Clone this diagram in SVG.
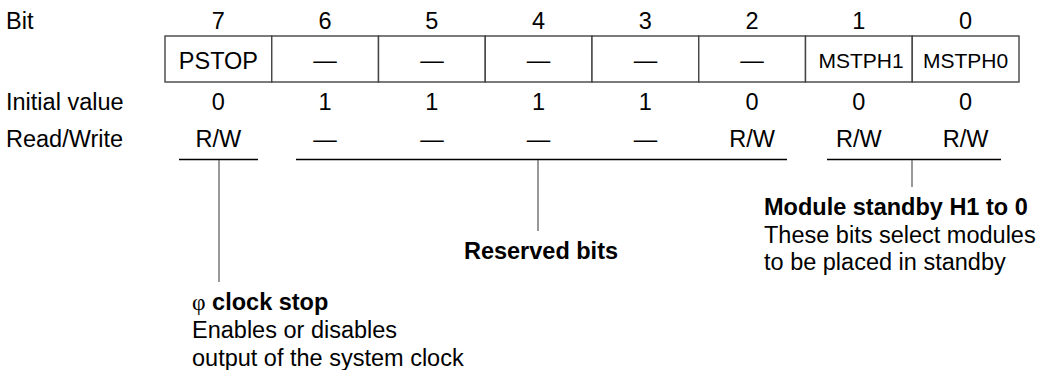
<svg xmlns="http://www.w3.org/2000/svg" width="1040" height="370" viewBox="0 0 1040 370">
<style>
text{font-family:"Liberation Sans",Arial,sans-serif;font-size:23.5px;fill:#000}
.c{text-anchor:middle}
.b{font-weight:bold}
.sm{font-size:21px}
.phi{font-family:"Liberation Serif","Times New Roman",serif;font-weight:normal}
.cell{fill:#fff;stroke:#444;stroke-width:1.4}
.br{stroke:#000;stroke-width:1.3;fill:none}
.vl{stroke:#555;stroke-width:1.2;fill:none}
</style>
<rect width="1040" height="370" fill="#fff"/>
<g id="row-labels">
<text x="6" y="29">Bit</text>
<text x="6" y="110">Initial value</text>
<text x="6" y="147">Read/Write</text>
</g>
<g id="bit-numbers">
<text class="c" x="218.4" y="29">7</text>
<text class="c" x="325.1" y="29">6</text>
<text class="c" x="431.9" y="29">5</text>
<text class="c" x="538.6" y="29">4</text>
<text class="c" x="645.4" y="29">3</text>
<text class="c" x="752.1" y="29">2</text>
<text class="c" x="858.9" y="29">1</text>
<text class="c" x="965.6" y="29">0</text>
</g>
<g id="register">
<rect class="cell" x="165" y="36" width="106.75" height="46"/>
<rect class="cell" x="271.75" y="36" width="106.75" height="46"/>
<rect class="cell" x="378.5" y="36" width="106.75" height="46"/>
<rect class="cell" x="485.25" y="36" width="106.75" height="46"/>
<rect class="cell" x="592" y="36" width="106.75" height="46"/>
<rect class="cell" x="698.75" y="36" width="106.75" height="46"/>
<rect class="cell" x="805.5" y="36" width="106.75" height="46"/>
<rect class="cell" x="912.25" y="36" width="106.75" height="46"/>
<text class="c" x="218.4" y="69">PSTOP</text>
<text class="c" x="325.1" y="68">—</text>
<text class="c" x="431.9" y="68">—</text>
<text class="c" x="538.6" y="68">—</text>
<text class="c" x="645.4" y="68">—</text>
<text class="c" x="752.1" y="68">—</text>
<text class="c sm" x="861" y="68">MSTPH1</text>
<text class="c sm" x="965.6" y="68">MSTPH0</text>
</g>
<g id="initial-values">
<text class="c" x="218.4" y="110">0</text>
<text class="c" x="325.1" y="110">1</text>
<text class="c" x="431.9" y="110">1</text>
<text class="c" x="538.6" y="110">1</text>
<text class="c" x="645.4" y="110">1</text>
<text class="c" x="752.1" y="110">0</text>
<text class="c" x="858.9" y="110">0</text>
<text class="c" x="965.6" y="110">0</text>
</g>
<g id="read-write">
<text class="c" x="218.4" y="147">R/W</text>
<text class="c" x="325.1" y="147">—</text>
<text class="c" x="431.9" y="147">—</text>
<text class="c" x="538.6" y="147">—</text>
<text class="c" x="645.4" y="147">—</text>
<text class="c" x="752.1" y="147">R/W</text>
<text class="c" x="858.9" y="147">R/W</text>
<text class="c" x="965.6" y="147">R/W</text>
</g>
<g id="connectors">
<line class="br" x1="179" y1="159.5" x2="258" y2="159.5"/>
<line class="br" x1="296" y1="159.5" x2="787" y2="159.5"/>
<line class="br" x1="827" y1="159.5" x2="1001" y2="159.5"/>
<line class="vl" x1="219" y1="160" x2="219" y2="282"/>
<line class="vl" x1="538" y1="160" x2="538" y2="231"/>
<line class="vl" x1="912" y1="160" x2="912" y2="187"/>
</g>
<g id="pstop-note">
<text x="192" y="310"><tspan class="phi">φ</tspan><tspan class="b"> clock stop</tspan></text>
<text x="192" y="338">Enables or disables</text>
<text x="192" y="366">output of the system clock</text>
</g>
<g id="reserved-note">
<text class="c b" x="541" y="259">Reserved bits</text>
</g>
<g id="mstph-note">
<text class="b" x="764" y="215">Module standby H1 to 0</text>
<text x="764" y="243">These bits select modules</text>
<text x="764" y="270">to be placed in standby</text>
</g>
</svg>
